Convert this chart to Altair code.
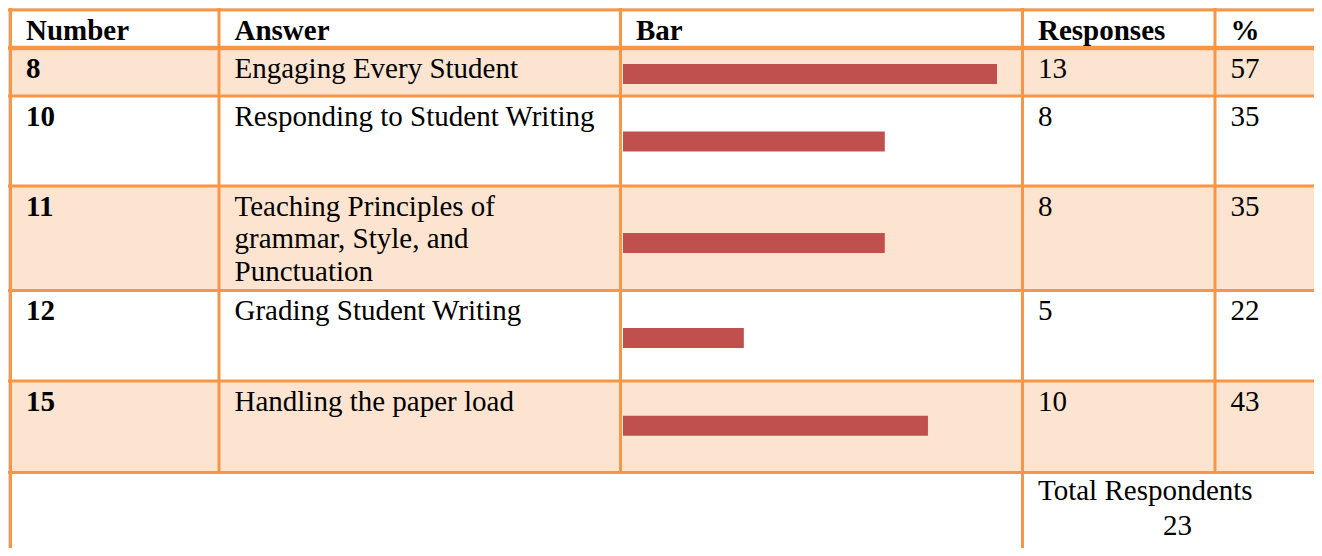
import altair as alt
import pandas as pd

# ---------------- data ----------------
headers = ["Number", "Answer", "Bar", "Responses", "%"]
numbers = ["8", "10", "11", "12", "15"]
answers = [
    "Engaging Every Student",
    "Responding to Student Writing",
    "Teaching Principles of\ngrammar, Style, and\nPunctuation",
    "Grading Student Writing",
    "Handling the paper load",
]
responses = [13, 8, 8, 5, 10]
percents = [57, 35, 35, 22, 43]
# bar lengths as drawn in the picture (in response units)
bar_lengths = [13, 9.1, 9.1, 4.2, 10.6]
total_label = "Total Respondents"
total_value = 23

# ---------------- layout (pixels, plot coordinates) ----------------
W, H = 1306, 540
OFF = 8
col_edges = [v - OFF for v in [10.5, 219, 620.5, 1022.5, 1215, 1340]]
row_edges = [v - OFF for v in [10, 48, 96, 186, 290.5, 381, 472.5, 570]]
text_pad = 15.5
baseline_off = 29.5
line_step = 32.5
bar_centers = [v - OFF for v in [74, 141.5, 243, 338, 425.7]]
bar_half = 10
bar_x0 = 623 - OFF
bar_full = 374
footer_label_dy = 27.5
footer_value_dy = 62.5
footer_value_dx = 125

LINE = "#F79646"
FILL = "#FDE4D1"
BAR = "#C0504D"
FONT = "Liberation Serif"
FS = 29

xs = alt.Scale(domain=[0, W], range=[0, W], nice=False, zero=False)
ys = alt.Scale(domain=[0, H], range=[0, H], nice=False, zero=False)

# shaded rows
fills = []
for r in range(len(numbers)):
    if r % 2 == 0:
        fills.append(dict(x=col_edges[0], x2=col_edges[-1],
                          y=row_edges[r + 1], y2=row_edges[r + 2]))
fill_df = pd.DataFrame(fills)

# grid lines
segs = []
for i in range(7):
    segs.append(dict(x=col_edges[0] - 1.5, x2=col_edges[-1], y=row_edges[i], y2=row_edges[i],
                     w=4.5 if i == 1 else 3))
for j in range(5):
    bottom = row_edges[-1] if j in (0, 3) else row_edges[6]
    segs.append(dict(x=col_edges[j], x2=col_edges[j], y=row_edges[0] - 1.5, y2=bottom, w=3))
seg_df = pd.DataFrame(segs)

# bars
bar_df = pd.DataFrame(dict(
    zero=[0] * len(bar_lengths),
    val=bar_lengths,
    y=[c - bar_half for c in bar_centers],
    y2=[c + bar_half for c in bar_centers],
))

# texts
bold_rows, norm_rows = [], []
for j, h in enumerate(headers):
    bold_rows.append(dict(x=col_edges[j] + text_pad, y=row_edges[0] + baseline_off, t=h))
for r in range(len(numbers)):
    top = row_edges[r + 1]
    bold_rows.append(dict(x=col_edges[0] + text_pad, y=top + baseline_off, t=numbers[r]))
    for k, line in enumerate(answers[r].split("\n")):
        norm_rows.append(dict(x=col_edges[1] + text_pad, y=top + baseline_off + k * line_step, t=line))
    norm_rows.append(dict(x=col_edges[3] + text_pad, y=top + baseline_off, t=str(responses[r])))
    norm_rows.append(dict(x=col_edges[4] + text_pad, y=top + baseline_off, t=str(percents[r])))
norm_rows.append(dict(x=col_edges[3] + text_pad, y=row_edges[6] + footer_label_dy, t=total_label))
norm_rows.append(dict(x=col_edges[3] + text_pad + footer_value_dx, y=row_edges[6] + footer_value_dy,
                      t=str(total_value)))
bold_df = pd.DataFrame(bold_rows)
norm_df = pd.DataFrame(norm_rows)

fill_layer = alt.Chart(fill_df).mark_rect(color=FILL).encode(
    x=alt.X("x:Q", scale=xs, axis=None), x2="x2:Q",
    y=alt.Y("y:Q", scale=ys, axis=None), y2="y2:Q")

bar_layer = alt.Chart(bar_df).mark_rect(color=BAR).encode(
    x=alt.X("zero:Q", scale=alt.Scale(domain=[0, 13], range=[bar_x0, bar_x0 + bar_full],
                                      nice=False, zero=False), axis=None),
    x2="val:Q",
    y=alt.Y("y:Q", scale=ys, axis=None), y2="y2:Q")

line_layer = alt.Chart(seg_df).mark_rule(color=LINE, strokeCap="square").encode(
    x=alt.X("x:Q", scale=xs, axis=None), x2="x2:Q",
    y=alt.Y("y:Q", scale=ys, axis=None), y2="y2:Q",
    strokeWidth=alt.StrokeWidth("w:Q", scale=None, legend=None))

bold_layer = alt.Chart(bold_df).mark_text(
    align="left", baseline="alphabetic", font=FONT, fontSize=FS, fontWeight="bold", color="black"
).encode(x=alt.X("x:Q", scale=xs, axis=None), y=alt.Y("y:Q", scale=ys, axis=None), text="t:N")

norm_layer = alt.Chart(norm_df).mark_text(
    align="left", baseline="alphabetic", font=FONT, fontSize=FS, color="black"
).encode(x=alt.X("x:Q", scale=xs, axis=None), y=alt.Y("y:Q", scale=ys, axis=None), text="t:N")

table = alt.layer(fill_layer, line_layer, bold_layer, norm_layer)
chart = alt.layer(table, bar_layer).resolve_scale(x="independent").properties(
    width=W, height=H, padding=0, autosize=alt.AutoSizeParams(type="none")
).configure_view(strokeWidth=0).configure(background="white")

chart.save("out.html", embed_options={"renderer": "svg", "actions": False})
